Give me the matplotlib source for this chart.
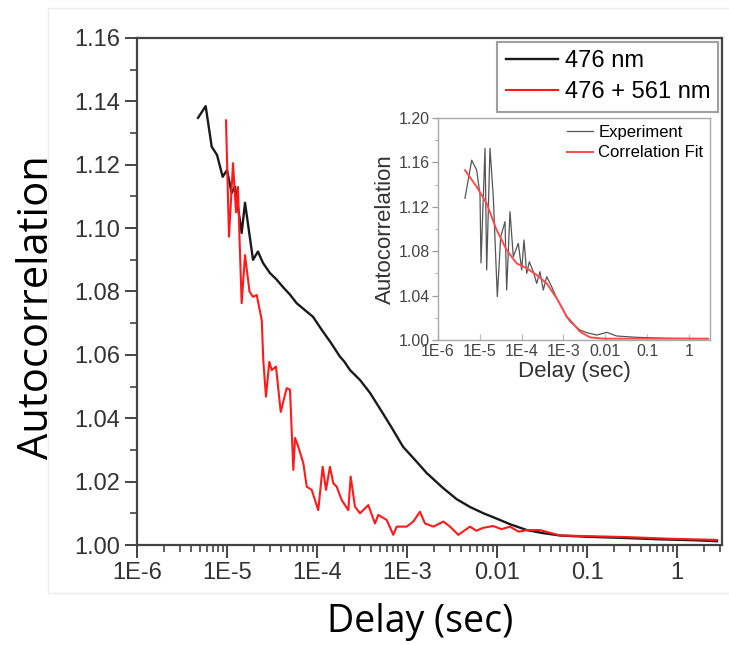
import numpy as np
import matplotlib
matplotlib.use("Agg")
import matplotlib.pyplot as plt
from matplotlib.patches import Rectangle
from matplotlib.ticker import LogLocator, NullFormatter, MultipleLocator, FormatStrFormatter

# ---- main plot data (log10 of delay in sec, autocorrelation) ----
blue_log_t = [-5.322, -5.237, -5.170, -5.111, -5.048, -5.000, -4.948, -4.911, -4.837, -4.800,
              -4.711, -4.656, -4.600, -4.522, -4.450, -4.378, -4.300, -4.226, -4.150, -4.044,
              -3.950, -3.850, -3.744, -3.700, -3.633, -3.520, -3.411, -3.300, -3.180, -3.044,
              -2.900, -2.781, -2.600, -2.450, -2.300, -2.150, -2.044, -1.850, -1.667, -1.500,
              -1.300, -1.000, -0.556, -0.200, 0.200, 0.444]
blue_g = [1.1348, 1.1385, 1.1257, 1.1231, 1.1162, 1.1183, 1.1111, 1.1131, 1.0985, 1.1080,
          1.0900, 1.0926, 1.0890, 1.0858, 1.0838, 1.0814, 1.0790, 1.0763, 1.0745, 1.0720,
          1.0680, 1.0640, 1.0594, 1.0580, 1.0552, 1.0520, 1.0480, 1.0430, 1.0375, 1.0310,
          1.0265, 1.0227, 1.0180, 1.0145, 1.0120, 1.0100, 1.0088, 1.0065, 1.0047, 1.0038,
          1.0030, 1.0026, 1.0022, 1.0018, 1.0015, 1.0012]

red_log_t = [-5.011, -4.978, -4.933, -4.900, -4.878, -4.860, -4.837, -4.800, -4.750, -4.711,
             -4.670, -4.614, -4.597, -4.567, -4.530, -4.503, -4.456, -4.403, -4.337, -4.300,
             -4.263, -4.244, -4.208, -4.152, -4.114, -4.059, -3.986, -3.937, -3.900, -3.856,
             -3.819, -3.781, -3.726, -3.652, -3.626, -3.578, -3.522, -3.430, -3.356, -3.319,
             -3.226, -3.152, -3.115, -3.003, -2.930, -2.856, -2.800, -2.707, -2.596, -2.522,
             -2.430, -2.300, -2.230, -2.156, -2.044, -1.950, -1.856, -1.760, -1.667, -1.522,
             -1.300, -1.000, -0.556, -0.100, 0.444]
red_g = [1.1340, 1.0973, 1.1205, 1.1050, 1.1130, 1.0960, 1.0763, 1.0915, 1.0800, 1.0783,
         1.0789, 1.0710, 1.0584, 1.0468, 1.0578, 1.0552, 1.0563, 1.0420, 1.0495, 1.0490,
         1.0237, 1.0338, 1.0310, 1.0258, 1.0184, 1.0174, 1.0110, 1.0247, 1.0174, 1.0247,
         1.0195, 1.0184, 1.0142, 1.0110, 1.0216, 1.0121, 1.0100, 1.0126, 1.0068, 1.0095,
         1.0079, 1.0032, 1.0058, 1.0058, 1.0074, 1.0105, 1.0068, 1.0058, 1.0074, 1.0058,
         1.0032, 1.0058, 1.0045, 1.0054, 1.0060, 1.0050, 1.0058, 1.0042, 1.0047, 1.0047,
         1.0030, 1.0028, 1.0025, 1.0020, 1.0016]

# ---- inset data ----
exp_log_t = [-5.355, -5.194, -5.075, -4.996, -4.972, -4.876, -4.836, -4.757, -4.678, -4.582,
             -4.501, -4.398, -4.358, -4.279, -4.200, -4.080, -3.999, -3.944, -3.879, -3.817,
             -3.722, -3.640, -3.562, -3.483, -3.401, -3.282, -3.162, -3.043, -2.923, -2.844,
             -2.605, -2.445, -2.206, -2.048, -1.967, -1.728, -1.250, -0.454, 0.424]
exp_g = [1.1277, 1.1620, 1.1530, 1.1310, 1.0694, 1.1727, 1.0631, 1.1727, 1.1290, 1.0390,
         1.0930, 1.1066, 1.0450, 1.1156, 1.0751, 1.0871, 1.0631, 1.0901, 1.0600, 1.0705,
         1.0615, 1.0510, 1.0615, 1.0450, 1.0570, 1.0480, 1.0376, 1.0300, 1.0210, 1.0165,
         1.0090, 1.0066, 1.0045, 1.0060, 1.0069, 1.0036, 1.0024, 1.0015, 1.0012]

fit_log_t = [-5.355, -5.075, -4.836, -4.597, -4.358, -4.119, -3.879, -3.640, -3.401, -3.162,
             -2.923, -2.844, -2.605, -2.366, -2.048, 0.460]
fit_g = [1.1530, 1.1380, 1.1230, 1.0990, 1.0810, 1.0690, 1.0646, 1.0586, 1.0510, 1.0376,
         1.0210, 1.0180, 1.0075, 1.0024, 1.0012, 1.0012]

tick_pos = [1e-6, 1e-5, 1e-4, 1e-3, 1e-2, 1e-1, 1]
tick_lab = ["1E-6", "1E-5", "1E-4", "1E-3", "0.01", "0.1", "1"]

plt.rcParams['font.family'] = ['Liberation Sans', 'DejaVu Sans']

fig = plt.figure(figsize=(7.29, 6.45), dpi=100)
fig.patches.append(Rectangle((48 / 729, 1 - 593 / 645), 1, 585 / 645, transform=fig.transFigure,
                             fill=False, edgecolor='#ececec', lw=1.0))

ax = fig.add_axes([137 / 729, 1 - 545 / 645, 585 / 729, 507 / 645])
ax.plot(10 ** np.array(blue_log_t), blue_g, color='#1a1a1a', lw=1.7, label='476 nm')
ax.plot(10 ** np.array(red_log_t), red_g, color='#ff1a1a', lw=1.5, label='476 + 561 nm')
ax.set_xscale('log')
ax.set_xlim(1e-6, 10 ** 0.5)
ax.set_ylim(1.0, 1.16)
ax.set_xticks(tick_pos)
ax.set_xticklabels(tick_lab)
ax.xaxis.set_minor_locator(LogLocator(base=10, subs=np.arange(2, 10)))
ax.xaxis.set_minor_formatter(NullFormatter())
ax.yaxis.set_major_locator(MultipleLocator(0.02))
ax.yaxis.set_minor_locator(MultipleLocator(0.01))
ax.yaxis.set_major_formatter(FormatStrFormatter('%.2f'))
for s in ax.spines.values():
    s.set_color('#444444')
    s.set_linewidth(1.6)
ax.tick_params(which='major', direction='out', length=9, width=1.4, color='#444444',
               labelsize=17, labelcolor='#333333', pad=3)
ax.tick_params(which='minor', direction='out', length=5, width=1.2, color='#444444')
ax.tick_params(top=False, right=False, which='both')
ax.set_xlabel('Delay (sec)', family=['Open Sans', 'DejaVu Sans'], fontsize=27, labelpad=14)
ax.xaxis.label.set_x(0.484)
ax.set_ylabel('Autocorrelation', family=['Open Sans', 'DejaVu Sans'], fontsize=30)
ax.yaxis.set_label_coords(-0.135, 0.47)
leg = ax.legend(loc='upper right', fontsize=17, handlelength=2.2, handletextpad=0.3,
                borderaxespad=0.15, fancybox=False, borderpad=0.35, labelspacing=0.4)
leg.get_frame().set_edgecolor('#888888')
leg.get_frame().set_linewidth(1.5)

# ---- inset ----
ins = fig.add_axes([438 / 729, 1 - 340 / 645, 272 / 729, 222 / 645])
ins.plot(10 ** np.array(exp_log_t), exp_g, color='#555555', lw=0.9, label='Experiment')
ins.plot(10 ** np.array(fit_log_t), fit_g, color='#ff4a4a', lw=1.4, label='Correlation Fit')
ins.set_xscale('log')
ins.set_xlim(1e-6, 10 ** 0.503)
ins.set_ylim(1.0, 1.2)
ins.set_xticks(tick_pos)
ins.set_xticklabels(tick_lab)
ins.xaxis.set_minor_locator(LogLocator(base=10, subs=np.arange(2, 10)))
ins.xaxis.set_minor_formatter(NullFormatter())
ins.yaxis.set_major_locator(MultipleLocator(0.04))
ins.yaxis.set_minor_locator(MultipleLocator(0.02))
ins.yaxis.set_major_formatter(FormatStrFormatter('%.2f'))
for s in ins.spines.values():
    s.set_color('#aaaaaa')
    s.set_linewidth(1.0)
ins.tick_params(axis='y', which='major', direction='out', length=4, width=0.9, color='#999999',
                labelsize=11.5, labelcolor='#444444', pad=2)
ins.tick_params(axis='y', which='minor', direction='out', length=2, color='#999999')
ins.tick_params(axis='x', which='major', direction='in', length=4, width=0.9, color='#bbbbbb',
                labelsize=11.5, labelcolor='#444444', pad=3)
ins.tick_params(axis='x', which='minor', direction='in', length=2, color='#bbbbbb')
ins.set_xlabel('Delay (sec)', fontsize=16, color='#333333', labelpad=1)
ins.set_ylabel('Autocorrelation', fontsize=16, color='#333333', labelpad=2)
ins.legend(loc='upper right', fontsize=12, frameon=False, handlelength=1.6,
           handletextpad=0.3, borderaxespad=0.1, labelspacing=0.35, borderpad=0.3)

fig.savefig('out.png', dpi=100)
